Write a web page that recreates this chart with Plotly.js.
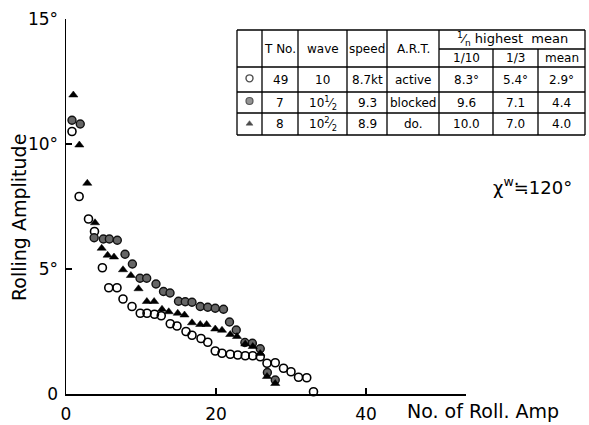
<!DOCTYPE html>
<html>
<head>
<meta charset="utf-8">
<script src="https://cdn.plot.ly/plotly-3.0.1.min.js"></script>
<style>html,body{margin:0;padding:0;background:#fff;}#chart{width:589px;height:425px;}</style>
</head>
<body>
<div id="chart"></div>
<script>
// ---- data: rank (No. of roll amplitude) and rolling amplitude (deg) ----
const rankActive = [0.8, 1.75, 3.0, 3.8, 4.85, 5.7, 6.8, 7.6, 8.8, 9.9, 10.8, 11.8, 12.7, 13.9, 14.8, 16.0, 16.8, 18.0, 18.9, 19.9, 20.8, 21.9, 22.9, 23.9, 24.9, 25.9, 26.8, 27.9, 29.0, 30.0, 31.0, 32.1, 33.0];
const ampActive  = [10.5, 7.9, 7.0, 6.5, 5.05, 4.25, 4.25, 3.8, 3.5, 3.23, 3.23, 3.19, 3.13, 2.81, 2.72, 2.5, 2.35, 2.22, 2.07, 1.72, 1.63, 1.59, 1.56, 1.53, 1.53, 1.49, 1.23, 1.25, 1.03, 0.89, 0.67, 0.65, 0.09];

const rankBlocked = [0.8, 1.9, 3.75, 4.98, 5.78, 6.84, 7.87, 8.85, 9.87, 10.76, 12.0, 13.0, 13.87, 15.0, 15.9, 16.8, 17.9, 18.9, 19.9, 21.0, 21.8, 22.7, 23.85, 24.85, 25.9, 26.85, 27.9];
const ampBlocked  = [10.95, 10.8, 6.25, 6.2, 6.2, 6.15, 5.59, 5.2, 4.63, 4.63, 4.4, 4.1, 4.04, 3.71, 3.69, 3.67, 3.5, 3.47, 3.43, 3.39, 2.88, 2.56, 2.06, 2.03, 1.81, 0.86, 0.56];

const rankDo = [0.98, 1.78, 2.84, 3.87, 4.76, 5.55, 6.4, 7.6, 8.65, 9.67, 10.78, 11.75, 12.8, 13.7, 14.9, 15.8, 16.8, 17.9, 18.75, 19.9, 20.8, 21.9, 22.8, 23.9, 24.9, 25.9, 26.8, 27.9];
const ampDo  = [11.96, 9.96, 8.43, 6.85, 5.83, 5.55, 5.48, 4.97, 4.74, 4.21, 3.7, 3.7, 3.39, 3.29, 3.23, 3.16, 2.85, 2.78, 2.78, 2.6, 2.55, 2.38, 2.3, 2.0, 1.9, 1.62, 0.7, 0.42];

// ---- axis ticks ----
const xTickVals = [0, 20, 40];
const xTickText = ['0', '20', '40'];
const yTickVals = [0, 5, 10, 15];
const yTickText = ['0', '5°', '10°', '15°'];

// ---- table contents ----
const tableHeader = ['', 'T No.', 'wave', 'speed', 'A.R.T.'];
const tableGroupHeader = '<sup>1</sup>⁄<sub>n</sub> highest  mean';
const tableSubHeader = ['1/10', '1/3', 'mean'];
const colTNo   = ['49', '7', '8'];
const colWave  = ['10', '10<sup>1</sup>⁄<sub>2</sub>', '10<sup>2</sup>⁄<sub>2</sub>'];
const colSpeed = ['8.7kt', '9.3', '8.9'];
const colART   = ['active', 'blocked', 'do.'];
const colTenth = ['8.3°', '9.6', '10.0'];
const colThird = ['5.4°', '7.1', '7.0'];
const colMean  = ['2.9°', '4.4', '4.0'];
const headingNote = 'χ<sup>w</sup>≒120°';

// ---- styles ----
const FONT = 'DejaVu Sans, Arial, sans-serif';
const styleActive  = {symbol: 'circle-open', size: 8, color: '#000', line: {width: 1.6, color: '#000'}};
const styleBlocked = {symbol: 'circle', size: 8, color: '#666', line: {width: 1.4, color: '#111'}};
const styleDo      = {symbol: 'triangle-up', size: 8, color: '#000', line: {width: 0.5, color: '#000'}};

// pixel helpers (plot area: x 66..466, y 19..394)
const L = 66, R = 466, T = 19, B = 394;
const px = v => (v - L) / (R - L);
const py = v => (B - v) / (B - T);

const traces = [
  {x: rankActive, y: ampActive, type: 'scatter', mode: 'markers', marker: styleActive, cliponaxis: false},
  {x: rankBlocked, y: ampBlocked, type: 'scatter', mode: 'markers', marker: styleBlocked, cliponaxis: false},
  {x: rankDo, y: ampDo, type: 'scatter', mode: 'markers', marker: styleDo, cliponaxis: false},
  // table symbols (legend column)
  {x: [0, 0, 0], y: [0, 1, 2], xaxis: 'x2', yaxis: 'y2', type: 'scatter', mode: 'markers',
   marker: {symbol: [styleActive.symbol, styleBlocked.symbol, styleDo.symbol], size: [7, 7, 6],
            color: ['#000', '#666', '#000'], line: {width: [1.4, 1.2, 0.5], color: ['#000', '#111', '#000']}}}
];

// table geometry in pixels
const colX = [237, 262, 298, 347, 387, 439, 493, 538, 585];
const rowY = [30, 49, 67, 92, 113, 135];
const shapes = [];
const lineStyle = {color: '#000', width: 1.3};
[rowY[0], rowY[2], rowY[3], rowY[4], rowY[5]].forEach(y => {
  shapes.push({type: 'line', xref: 'paper', yref: 'paper', x0: px(colX[0]), x1: px(colX[8]), y0: py(y), y1: py(y), line: lineStyle});
});
shapes.push({type: 'line', xref: 'paper', yref: 'paper', x0: px(colX[5]), x1: px(colX[8]), y0: py(rowY[1]), y1: py(rowY[1]), line: lineStyle});
colX.forEach((x, i) => {
  const top = (i === 6 || i === 7) ? rowY[1] : rowY[0];
  shapes.push({type: 'line', xref: 'paper', yref: 'paper', x0: px(x), x1: px(x), y0: py(top), y1: py(rowY[5]), line: lineStyle});
});

const ann = [];
const cell = (text, cx, cy, size) => ann.push({text: text, xref: 'paper', yref: 'paper', x: px(cx), y: py(cy),
  xanchor: 'center', yanchor: 'middle', showarrow: false, font: {family: FONT, size: size || 12, color: '#000'}});
const cMid = i => (colX[i] + colX[i + 1]) / 2;
tableHeader.forEach((t, i) => { if (t) cell(t, cMid(i), (rowY[0] + rowY[2]) / 2); });
cell(tableGroupHeader, (colX[5] + colX[8]) / 2, (rowY[0] + rowY[1]) / 2 - 1, 13);
tableSubHeader.forEach((t, i) => cell(t, cMid(5 + i), (rowY[1] + rowY[2]) / 2));
const cols = [colTNo, colWave, colSpeed, colART, colTenth, colThird, colMean];
for (let r = 0; r < 3; r++) {
  const cy = (rowY[2 + r] + rowY[3 + r]) / 2;
  cols.forEach((c, i) => cell(c[r], cMid(i + 1), cy));
}
// titles
ann.push({text: 'Rolling Amplitude', xref: 'paper', yref: 'paper', x: px(19), y: py(218), textangle: -90,
  xanchor: 'center', yanchor: 'middle', showarrow: false, font: {family: FONT, size: 19, color: '#000'}});
ann.push({text: 'No. of Roll. Amp', xref: 'paper', yref: 'paper', x: px(483), y: py(411),
  xanchor: 'center', yanchor: 'middle', showarrow: false, font: {family: FONT, size: 19, color: '#000'}});
ann.push({text: headingNote, xref: 'paper', yref: 'paper', x: px(532), y: py(186),
  xanchor: 'center', yanchor: 'middle', showarrow: false, font: {family: FONT, size: 18, color: '#000'}});

const layout = {
  width: 589, height: 425,
  margin: {l: L, r: 589 - R, t: T, b: 425 - B, pad: 0},
  paper_bgcolor: '#fff', plot_bgcolor: '#fff',
  showlegend: false,
  font: {family: FONT, color: '#000'},
  xaxis: {range: [0, (R - L) / 7.5], tickvals: xTickVals, ticktext: xTickText, ticks: 'inside', ticklen: 6, tickwidth: 1.3,
          tickcolor: '#000', showline: true, linewidth: 1.5, linecolor: '#000', showgrid: false, zeroline: false,
          tickfont: {family: FONT, size: 17}, ticklabelstandoff: 4},
  yaxis: {range: [0, 15], tickvals: yTickVals, ticktext: yTickText, ticks: 'inside', ticklen: 6, tickwidth: 1.3,
          tickcolor: '#000', showline: true, linewidth: 1.5, linecolor: '#000', showgrid: false, zeroline: false,
          tickfont: {family: FONT, size: 17}, ticklabelstandoff: 3},
  xaxis2: {domain: [px(colX[0]), px(colX[1])], range: [-1, 1], visible: false, anchor: 'y2'},
  yaxis2: {domain: [py(rowY[5]), py(rowY[2])], range: [2.5, -0.5], visible: false, anchor: 'x2'},
  shapes: shapes,
  annotations: ann
};

Plotly.newPlot('chart', traces, layout, {displayModeBar: false, staticPlot: true});
</script>
</body>
</html>
